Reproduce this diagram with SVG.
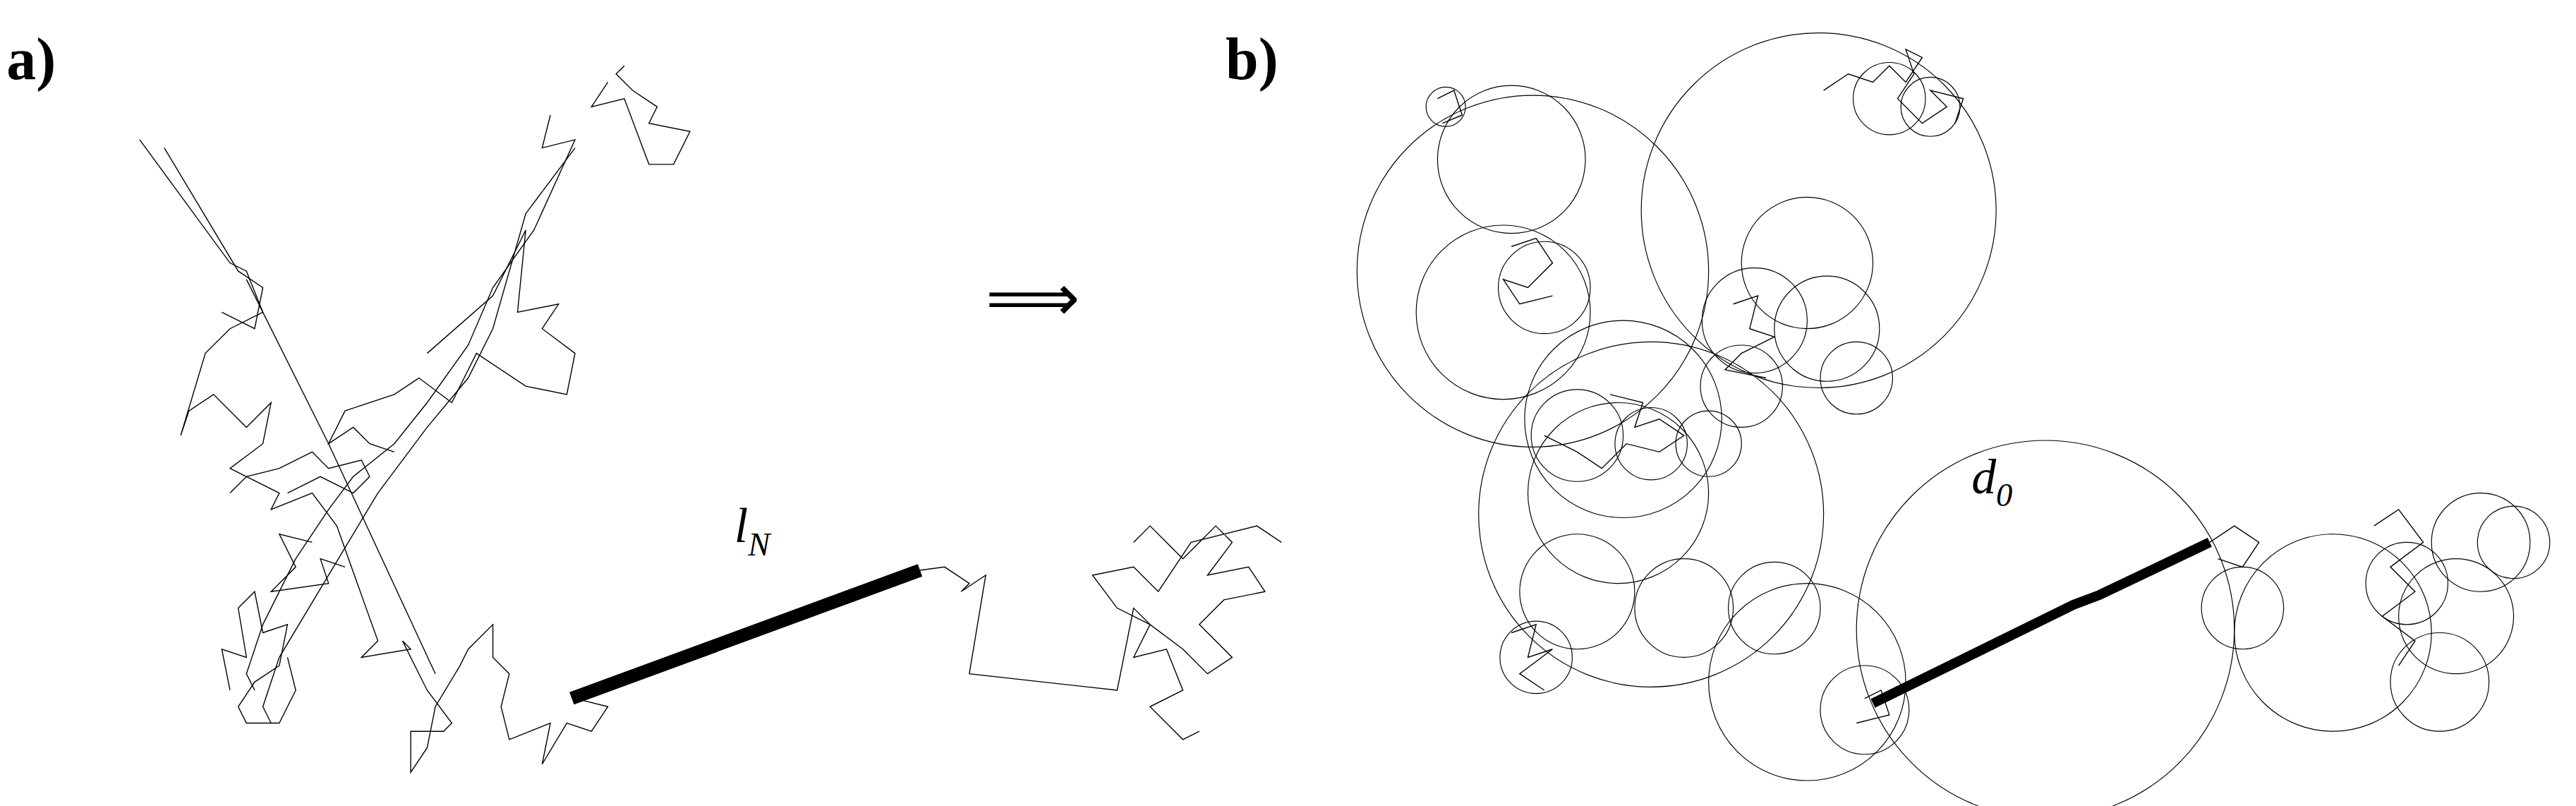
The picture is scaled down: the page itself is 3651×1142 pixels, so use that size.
<svg xmlns="http://www.w3.org/2000/svg" width="3651" height="1142" viewBox="0 0 3651 1142">
<style>
.w{fill:none;stroke:#000;stroke-width:0.6;stroke-linejoin:miter}
.c{fill:none;stroke:#000;stroke-width:0.5}
.lbl{font-family:"Liberation Serif",serif;font-weight:bold;font-size:36px}
.m{font-family:"Liberation Serif","DejaVu Serif",serif;font-style:italic;font-size:30px}
</style>
<rect width="3651" height="1142" fill="#fff"/>
<g transform="scale(2.3285)">
<text class="lbl" x="4" y="48">a)</text>
<text class="lbl" x="746" y="48">b)</text>
<text x="600" y="195" font-family="DejaVu Sans,sans-serif" font-size="40">⟹</text>
<g id="walk-a">
<polyline class="w" points="85,85 140,160 150,165 160,190 140,200 125,215 110,265 115,250 130,240 150,260 165,245 160,270 140,285 170,300 165,310 190,300 205,320 230,390 220,400 250,395 245,390 260,420 275,440 270,445 250,445 250,470 260,455 265,430 280,405 285,395 300,380 300,400 310,410 305,430 310,450 335,440 330,465 345,440 360,445 370,430 350,425"/>
<polyline class="w" points="100,90 145,165 160,175 155,200 135,190"/>
<polyline class="w" points="150,170 200,270 265,410"/>
<polyline class="w" points="335,70 330,90 350,85 325,140 300,175 285,210 260,245 240,270 215,290 200,310 180,340 160,380 150,410 155,420"/>
<polyline class="w" points="350,90 320,130 300,200 285,230 260,260 230,300 200,350 170,400 160,430 165,440"/>
<polyline class="w" points="370,50 360,65 380,60 395,100 410,100 420,80 395,75 400,65 385,55 375,45 380,40"/>
<polyline class="w" points="260,215 300,180 320,140 315,190 340,185 330,200 350,215 345,240 320,235 290,215 275,245 255,230 240,240 210,250 200,270 215,260 225,270 240,275"/>
<polyline class="w" points="140,300 150,290 170,285 190,275 200,285 220,280 225,290 215,300 195,290 175,300"/>
<polyline class="w" points="140,420 135,395 150,400 145,370 155,360 160,385 175,380 170,405 155,415 145,430 150,440 170,440 180,420 175,400"/>
<polyline class="w" points="560,347 575,345 590,355 585,360 600,350 590,410 680,420 690,370 700,380 690,400 710,395 720,420 700,430 710,440 720,450 730,445"/>
<polyline class="w" points="690,330 700,320 720,340 740,320 750,330 735,350 760,345 770,360 745,365 730,380 750,400 735,410 720,395 700,380 680,370 665,350 690,345 705,360 725,330 765,320 780,330"/>
<polyline class="w" points="190,330 170,325 180,345 165,360 200,355 195,340 210,345"/>
</g>
<line x1="348" y1="425" x2="560" y2="347" stroke="#000" stroke-width="8"/>
<text class="m" x="447" y="330">l<tspan font-size="20" dy="8">N</tspan></text>
<g id="circles-b">
<circle class="c" cx="933" cy="165" r="107"/>
<circle class="c" cx="1107" cy="128" r="108"/>
<circle class="c" cx="1245" cy="383" r="115"/>
<circle class="c" cx="1005" cy="313" r="105"/>
<circle class="c" cx="915" cy="190" r="53"/>
<circle class="c" cx="920" cy="97" r="45"/>
<circle class="c" cx="985" cy="300" r="55"/>
<circle class="c" cx="988" cy="255" r="60"/>
<circle class="c" cx="1100" cy="415" r="60"/>
<circle class="c" cx="1420" cy="385" r="60"/>
<circle class="c" cx="1365" cy="370" r="25"/>
<circle class="c" cx="1495" cy="375" r="35"/>
<circle class="c" cx="1510" cy="330" r="30"/>
<circle class="c" cx="1485" cy="415" r="30"/>
<circle class="c" cx="1530" cy="330" r="22"/>
<circle class="c" cx="1465" cy="355" r="25"/>
<circle class="c" cx="1100" cy="160" r="40"/>
<circle class="c" cx="1068" cy="195" r="32"/>
<circle class="c" cx="1112" cy="200" r="32"/>
<circle class="c" cx="1130" cy="230" r="22"/>
<circle class="c" cx="1060" cy="235" r="25"/>
<circle class="c" cx="960" cy="360" r="35"/>
<circle class="c" cx="1025" cy="370" r="30"/>
<circle class="c" cx="1080" cy="370" r="28"/>
<circle class="c" cx="1135" cy="432" r="27"/>
<circle class="c" cx="935" cy="400" r="22"/>
<circle class="c" cx="940" cy="175" r="28"/>
<circle class="c" cx="1150" cy="60" r="22"/>
<circle class="c" cx="1175" cy="65" r="18"/>
<circle class="c" cx="880" cy="65" r="12"/>
<circle class="c" cx="960" cy="265" r="28"/>
<circle class="c" cx="1005" cy="270" r="22"/>
<circle class="c" cx="1040" cy="270" r="20"/>
</g>
<g id="walk-b">
<polyline class="w" points="1110,55 1125,45 1140,50 1150,40 1160,50 1170,35 1160,30 1165,45 1155,60 1170,75 1185,65 1175,55 1195,60 1190,75"/>
<polyline class="w" points="920,150 935,145 945,160 930,175 915,170 925,185 945,180"/>
<polyline class="w" points="980,240 1000,245 995,260 1010,255 1025,265 1010,275 990,270 975,285 960,275 940,265"/>
<polyline class="w" points="1055,185 1070,180 1065,200 1080,205 1060,215 1050,225 1075,230"/>
<polyline class="w" points="920,385 935,380 930,400 945,395 925,410 940,420"/>
<polyline class="w" points="1445,320 1460,310 1475,330 1455,345 1470,360 1450,375 1470,390 1460,405"/>
<polyline class="w" points="1345,330 1360,320 1375,330 1365,345 1350,340"/>
<polyline class="w" points="1135,425 1145,420 1150,435 1130,440"/>
<polyline class="w" points="875,60 885,55 890,70 878,75"/>
</g>
<polyline points="1140,428 1262,368 1278,362 1345,330" fill="none" stroke="#000" stroke-width="6"/>
<text class="m" x="1200" y="300">d<tspan font-size="20" dy="8">0</tspan></text>
</g>
</svg>
